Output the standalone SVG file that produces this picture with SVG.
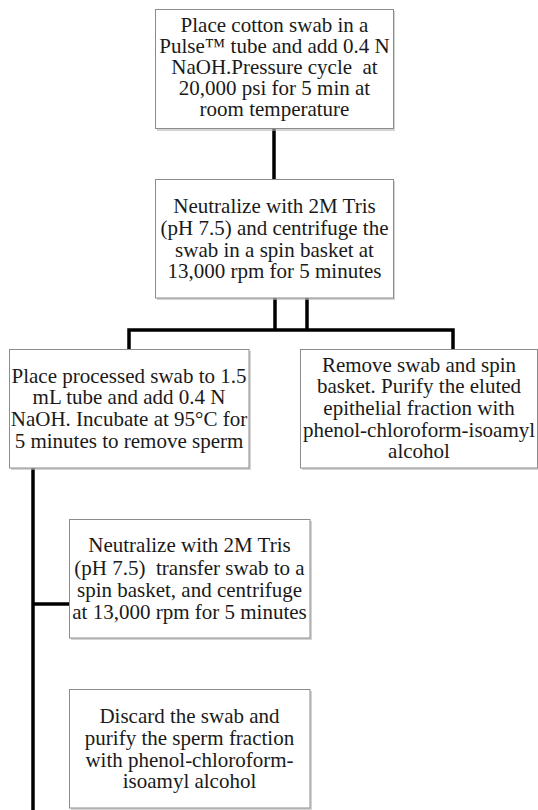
<svg xmlns="http://www.w3.org/2000/svg" width="538" height="810" viewBox="0 0 538 810">
<style>
.box{fill:#fff;stroke:#8c8c8c;stroke-width:1}
.sh{fill:#b8b8b8;opacity:0.6}
.t{font-family:"Liberation Serif","Times New Roman",serif;font-size:21px;fill:#1a1a1a;text-anchor:middle}
.c{stroke:#000;stroke-width:3.5;fill:none}
</style>
<rect width="538" height="810" fill="#fff"/>
<g id="connectors">
<line class="c" x1="274" y1="128" x2="274" y2="179"/>
<line class="c" x1="275" y1="298" x2="275" y2="330"/>
<line class="c" x1="307" y1="298" x2="307" y2="330"/>
<polyline class="c" points="129,349 129,330 453,330 453,349"/>
<line class="c" x1="33" y1="468" x2="33" y2="810"/>
<line class="c" x1="33" y1="604" x2="69" y2="604"/>
</g>
<g id="node1">
<rect class="sh" x="157" y="11" width="238" height="120"/>
<rect class="box" x="155.5" y="9.5" width="238" height="119"/>
<text class="t" x="274.5" y="32">Place cotton swab in a</text>
<text class="t" x="274.5" y="53">Pulse™ tube and add 0.4 N</text>
<text class="t" x="274.5" y="74">NaOH.Pressure cycle&#160; at</text>
<text class="t" x="274.5" y="95">20,000 psi for 5 min at</text>
<text class="t" x="274.5" y="116">room temperature</text>
</g>
<g id="node2">
<rect class="sh" x="157" y="181" width="238" height="119"/>
<rect class="box" x="155.5" y="179.5" width="238" height="118.5"/>
<text class="t" x="274.5" y="213">Neutralize with 2M Tris</text>
<text class="t" x="274.5" y="235">(pH 7.5) and centrifuge the</text>
<text class="t" x="274.5" y="257">swab in a spin basket at</text>
<text class="t" x="274.5" y="278">13,000 rpm for 5 minutes</text>
</g>
<g id="node3">
<rect class="sh" x="11" y="351" width="240" height="119"/>
<rect class="box" x="9.5" y="349.5" width="239.5" height="118.5"/>
<text class="t" x="129" y="383">Place processed swab to 1.5</text>
<text class="t" x="129" y="404">mL tube and add 0.4 N</text>
<text class="t" x="129" y="426">NaOH. Incubate at 95°C for</text>
<text class="t" x="129" y="448">5 minutes to remove sperm</text>
</g>
<g id="node4">
<rect class="sh" x="302" y="351" width="238" height="119"/>
<rect class="box" x="300.5" y="349.5" width="237" height="118.5"/>
<text class="t" x="419" y="372">Remove swab and spin</text>
<text class="t" x="419" y="393">basket. Purify the eluted</text>
<text class="t" x="419" y="415">epithelial fraction with</text>
<text class="t" x="419" y="437">phenol-chloroform-isoamyl</text>
<text class="t" x="419" y="458">alcohol</text>
</g>
<g id="node5">
<rect class="sh" x="71" y="521" width="241" height="119"/>
<rect class="box" x="69.5" y="519.5" width="240.5" height="118.5"/>
<text class="t" x="189.5" y="552">Neutralize with 2M Tris</text>
<text class="t" x="189.5" y="575">(pH 7.5)&#160; transfer swab to a</text>
<text class="t" x="189.5" y="597">spin basket, and centrifuge</text>
<text class="t" x="189.5" y="619">at 13,000 rpm for 5 minutes</text>
</g>
<g id="node6">
<rect class="sh" x="71" y="691" width="241" height="119"/>
<rect class="box" x="69.5" y="689.5" width="240.5" height="118.5"/>
<text class="t" x="189.5" y="723">Discard the swab and</text>
<text class="t" x="189.5" y="745">purify the sperm fraction</text>
<text class="t" x="189.5" y="767">with phenol-chloroform-</text>
<text class="t" x="189.5" y="788">isoamyl alcohol</text>
</g>
</svg>
